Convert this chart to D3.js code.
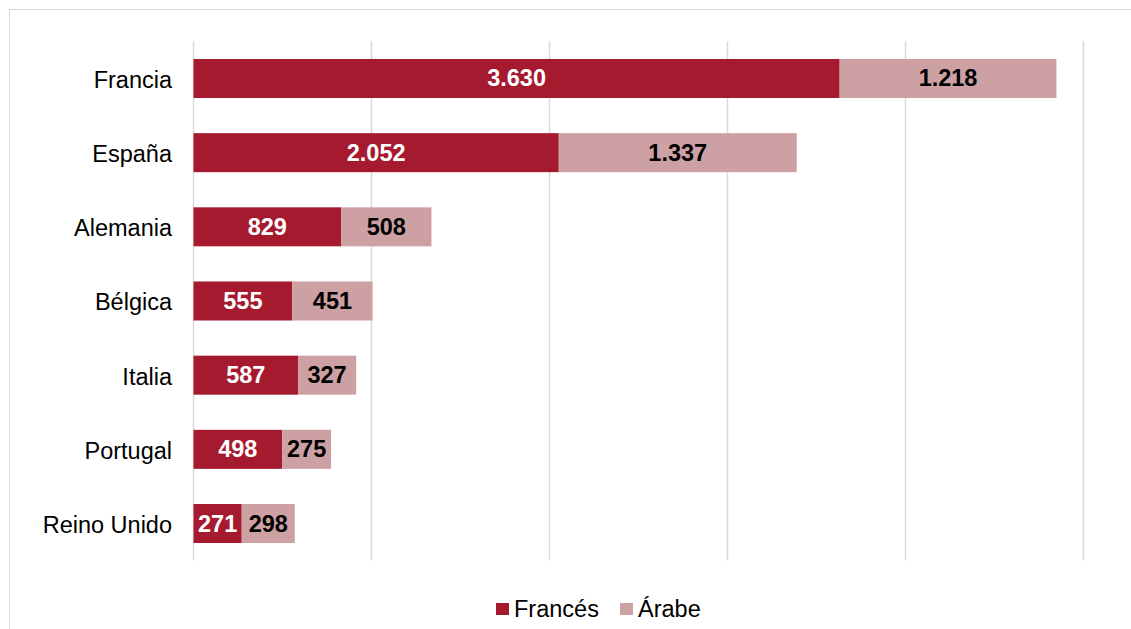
<!DOCTYPE html>
<html>
<head>
<meta charset="utf-8">
<script src="https://cdn.jsdelivr.net/npm/d3@7"></script>
<style>
  body { margin: 0; background: #fff; }
  svg { font-family: "Liberation Sans", Arial, sans-serif; }
</style>
</head>
<body>
<div id="chart"></div>
<script>
var countries = ["Francia", "España", "Alemania", "Bélgica", "Italia", "Portugal", "Reino Unido"];
var frances = [3630, 2052, 829, 555, 587, 498, 271];
var arabe = [1218, 1337, 508, 451, 327, 275, 298];
var seriesNames = ["Francés", "Árabe"];
var xTicks = [0, 1000, 2000, 3000, 4000, 5000];

var width = 1131, height = 629;
var colors = ["#A51A2F", "#CDA1A4"];
var textColors = ["#fff", "#000"];
var fontSize = 23.5;

var svg = d3.select("#chart").append("svg")
    .attr("width", width)
    .attr("height", height);

// outer frame
svg.append("rect")
    .attr("x", 9.5).attr("y", 9.5)
    .attr("width", width + 10).attr("height", height + 10)
    .attr("fill", "none")
    .attr("stroke", "#d9d9d9");

var x = d3.scaleLinear().domain([0, 5000]).range([193.5, 1083.5]);
var y = d3.scaleBand().domain(countries).range([41.4, 560.6]).paddingInner(0.474).paddingOuter(0.237);

// gridlines
svg.append("g").selectAll("line").data(xTicks)
  .enter().append("line")
    .attr("x1", function(d) { return Math.round(x(d)) - 0.5; })
    .attr("x2", function(d) { return Math.round(x(d)) - 0.5; })
    .attr("y1", 41.4).attr("y2", 560.6)
    .attr("stroke", "#d9d9d9")
    .attr("stroke-width", 1.5);

var rows = countries.map(function(c, i) {
  return {country: c, vals: [frances[i], arabe[i]]};
});

var stacks = [];
rows.forEach(function(r) {
  var acc = 0;
  r.vals.forEach(function(v, k) {
    stacks.push({country: r.country, k: k, v: v, x0: acc, x1: acc + v});
    acc += v;
  });
});

var fmt = function(v) { return d3.format(",")(v).replace(/,/g, "."); };

svg.append("g").selectAll("rect").data(stacks)
  .enter().append("rect")
    .attr("x", function(d) { return x(d.x0); })
    .attr("y", function(d) { return y(d.country); })
    .attr("width", function(d) { return x(d.x1) - x(d.x0); })
    .attr("height", y.bandwidth())
    .attr("fill", function(d) { return colors[d.k]; });

svg.append("g").selectAll("text").data(stacks)
  .enter().append("text")
    .attr("x", function(d) { return (x(d.x0) + x(d.x1)) / 2; })
    .attr("y", function(d) { return y(d.country) + y.bandwidth() / 2; })
    .attr("dy", "0.34em")
    .attr("text-anchor", "middle")
    .attr("font-size", fontSize)
    .attr("font-weight", "bold")
    .attr("fill", function(d) { return textColors[d.k]; })
    .text(function(d) { return fmt(d.v); });

// category axis labels
svg.append("g").selectAll("text").data(countries)
  .enter().append("text")
    .attr("x", 172)
    .attr("y", function(d) { return y(d) + y.bandwidth() / 2; })
    .attr("dy", "0.4em")
    .attr("text-anchor", "end")
    .attr("font-size", fontSize)
    .attr("fill", "#000")
    .text(function(d) { return d; });

// legend
var legend = svg.append("g");
var legendX = [496, 620];
seriesNames.forEach(function(s, i) {
  legend.append("rect")
      .attr("x", legendX[i]).attr("y", 603)
      .attr("width", 13).attr("height", 12)
      .attr("fill", colors[i]);
  legend.append("text")
      .attr("x", legendX[i] + 18).attr("y", 609)
      .attr("dy", "0.36em")
      .attr("font-size", fontSize)
      .attr("fill", "#000")
      .text(s);
});
</script>
</body>
</html>
